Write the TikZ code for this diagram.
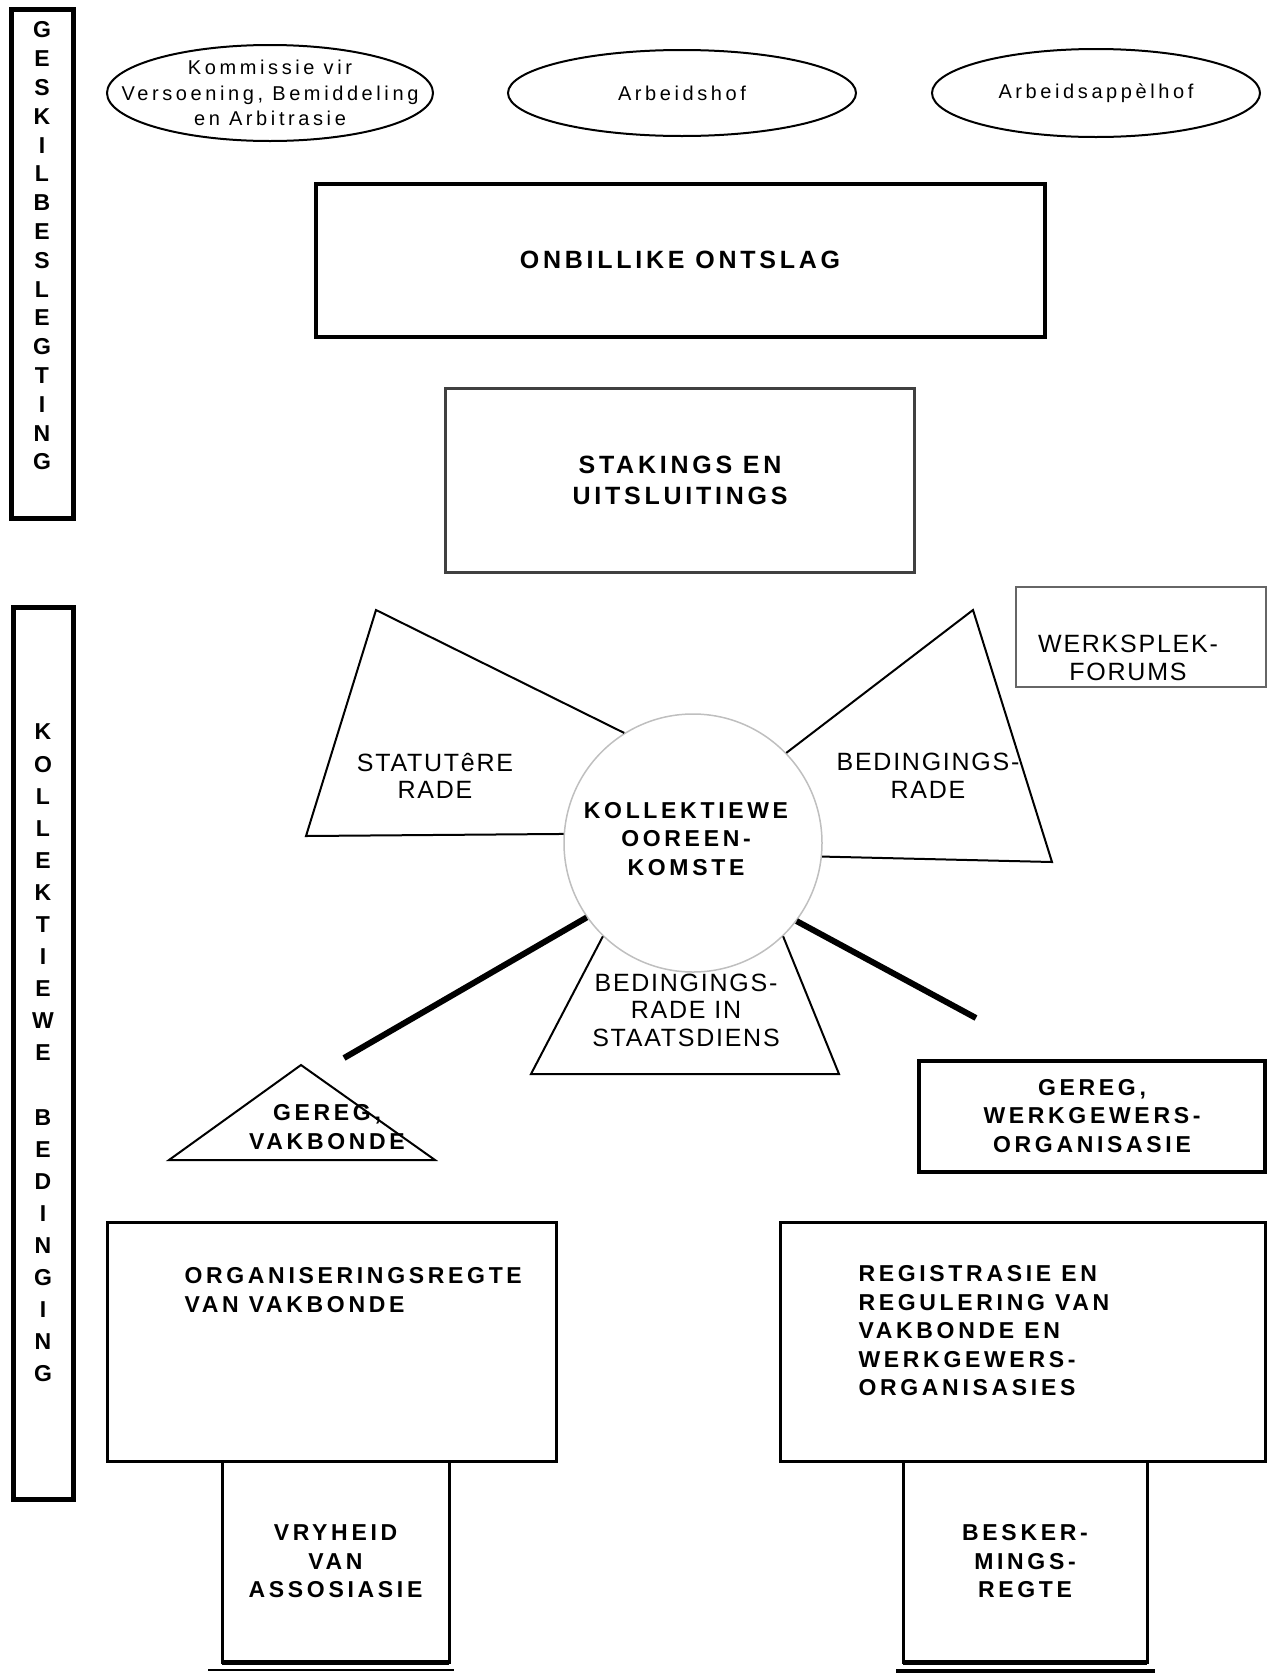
\documentclass[tikz,border=0pt]{standalone}
\usepackage{fontspec}
\newfontfamily\courtfont{Liberation Sans}[LetterSpace=18]
\newfontfamily\headfont{Liberation Sans}[LetterSpace=15]
\newfontfamily\strongfont{Liberation Sans}[LetterSpace=16]
\newfontfamily\plainfont{Liberation Sans}[LetterSpace=7]
\usetikzlibrary{positioning,shapes.geometric}
\tikzset{
  court/.style={ellipse,draw=black,line width=2pt,inner sep=0pt},
  courttxt/.style={font=\courtfont\fontsize{20}{25.5}\selectfont,align=center},
  box/.style={rectangle,draw=black,outer sep=0pt,inner sep=0pt},
  edge/.style={draw=black,line width=2pt,line join=miter},
  link/.style={draw=black,line width=6pt},
  bar/.style={draw=black,line width=5pt},
  barletter/.style={font=\strongfont\bfseries\fontsize{23}{23}\selectfont,inner sep=0pt},
  headtxt/.style={font=\headfont\bfseries\fontsize{25}{31}\selectfont,align=center},
  strongtxt/.style={font=\strongfont\bfseries\fontsize{23}{28.5}\selectfont,align=center},
  plaintxt/.style={font=\plainfont\fontsize{25}{27.5}\selectfont,align=center}
}
\begin{document}
\begin{tikzpicture}[x=1pt,y=-1pt]
  \useasboundingbox (0,0) rectangle (1269,1676);

  % geskilbeslegting
  \draw[bar] (11,9) rectangle (73,518);
  \foreach \l [count=\i] in {G,E,S,K,I,L,B,E,S,L,E,G,T,I,N,G}
    \node[barletter] (gb\i) at (42,{30+28.8*(\i-1)}) {\l};

  % kollektiewe bedinging
  \draw[bar] (13,607) rectangle (73,1499);
  \foreach \l [count=\i] in {K,O,L,L,E,K,T,I,E,W,E,{},B,E,D,I,N,G,I,N,G}
    \node[barletter] (kb\i) at (43,{732+32.1*(\i-1)}) {\l};

  % forums
  \node[court,minimum width=326pt,minimum height=96pt] (kvba) at (270,93) {};
  \node[courttxt] (kvbatxt) at (kvba) {Kommissie vir\\Versoening, Bemiddeling\\en Arbitrasie};
  \node[court,minimum width=348pt,minimum height=86pt] (hof) at (682,93) {};
  \node[courttxt] (hoftxt) at (hof) {Arbeidshof};
  \node[court,minimum width=328pt,minimum height=88pt] (appelhof) at (1096,93) {};
  \node[courttxt] (appelhoftxt) at (appelhof) {Arbeidsapp\`elhof};

  % ontslag en stakings
  \node[box,line width=4pt,minimum width=729pt,minimum height=153pt,headtxt] (ontslag) at (680,260) {ONBILLIKE ONTSLAG};
  \node[box,line width=3pt,draw=black!75,minimum width=469pt,minimum height=184pt,headtxt] (staking) at (680,480) {STAKINGS EN\\UITSLUITINGS};
  \node[box,line width=1.5pt,draw=black!60,minimum width=250pt,minimum height=100pt] (forum) at (1141,637) {};
  \node[plaintxt] (forumtxt) at (1128,658) {WERKSPLEK-\\FORUMS};

  % kollektiewe ooreenkomste
  \node[circle,draw=black!25,line width=1.5pt,minimum size=258pt,inner sep=0pt] (ko) at (693,843) {};
  \node[strongtxt] (kotxt) at (686,839) {KOLLEKTIEWE\\OOREEN-\\KOMSTE};

  \draw[edge] (ko.122) -- (376,610) -- (306,836) -- (ko.176);
  \node[plaintxt] (statraad) at (435,776) {STATUTêRE\\RADE};
  \draw[edge] (ko.44) -- (973,610) -- (1052,862) -- (ko.-6);
  \node[plaintxt] (bedraad) at (928,776) {BEDINGINGS-\\RADE};
  \draw[edge] (ko.226) -- (531,1074) -- (839,1074) -- (ko.314);
  \node[plaintxt] (staat) at (686,1010) {BEDINGINGS-\\RADE IN\\STAATSDIENS};

  \coordinate (vbend) at (344,1058);
  \coordinate (wgend) at (976,1018);
  \draw[link] (ko.215) -- (vbend);
  \draw[link] (ko.323) -- (wgend);

  % geregistreerde partye
  \draw[edge] (301,1065) -- (169,1160) -- (435,1160) -- cycle;
  \node[strongtxt] (vakbond) at (327,1127) {GEREG,\\VAKBONDE};
  \node[box,line width=4pt,minimum width=346pt,minimum height=111pt,strongtxt] (werkgewer) at (1092,1116) {GEREG,\\WERKGEWERS-\\ORGANISASIE};

  % regte
  \node[box,line width=3pt,minimum width=449pt,minimum height=239pt] (org) at (331.5,1341.5) {};
  \node[strongtxt,align=left,anchor=west] (orgtxt) at (181,1290) {ORGANISERINGSREGTE\\VAN VAKBONDE};
  \node[box,line width=3pt,minimum width=485pt,minimum height=239pt] (reg) at (1022.5,1341.5) {};
  \node[strongtxt,align=left,anchor=west] (regtxt) at (855,1331) {REGISTRASIE EN\\REGULERING VAN\\VAKBONDE EN\\WERKGEWERS-\\ORGANISASIES};
  \node[box,line width=3pt,minimum width=227pt,minimum height=201pt,below=0pt of org,xshift=4pt,strongtxt] (vry) {VRYHEID\\VAN\\ASSOSIASIE};
  \node[box,line width=3pt,minimum width=244pt,minimum height=201pt,below=0pt of reg,xshift=2.5pt,strongtxt] (besk) {BESKER-\\MINGS-\\REGTE};
  \draw[line width=5pt] (vry.south west) -- (vry.south east);
  \draw[line width=5pt] (besk.south west) -- (besk.south east);
  \draw[line width=2pt] ([xshift=-14pt,yshift=-8pt]vry.south west) -- ([xshift=5pt,yshift=-8pt]vry.south east);
  \draw[line width=4pt] ([xshift=-7pt,yshift=-9pt]besk.south west) -- ([xshift=8pt,yshift=-9pt]besk.south east);
\end{tikzpicture}
\end{document}
